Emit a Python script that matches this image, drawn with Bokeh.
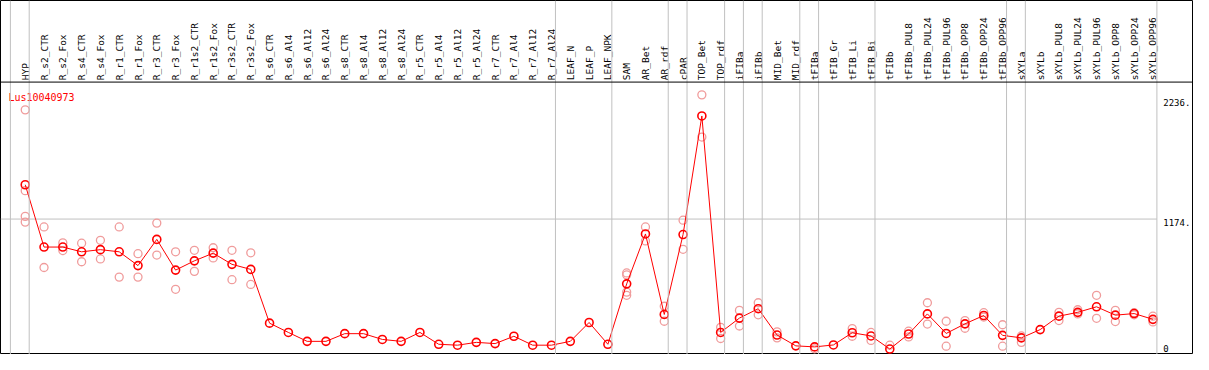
from bokeh.plotting import figure
from bokeh.models import Range1d, Span
from bokeh.core.properties import value
from bokeh.embed import file_html
from bokeh.resources import INLINE
import math

title = "Lus10040973"

categories = ["HYP", "R_s2_CTR", "R_s2_Fox", "R_s4_CTR", "R_s4_Fox", "R_r1_CTR", "R_r1_Fox",
              "R_r3_CTR", "R_r3_Fox", "R_r1s2_CTR", "R_r1s2_Fox", "R_r3s2_CTR", "R_r3s2_Fox",
              "R_s6_CTR", "R_s6_Al4", "R_s6_Al12", "R_s6_Al24", "R_s8_CTR", "R_s8_Al4", "R_s8_Al12",
              "R_s8_Al24", "R_r5_CTR", "R_r5_Al4", "R_r5_Al12", "R_r5_Al24", "R_r7_CTR", "R_r7_Al4",
              "R_r7_Al12", "R_r7_Al24", "LEAF_N", "LEAF_P", "LEAF_NPK", "SAM", "AR_Bet", "AR_rdf",
              "cPAR", "TOP_Bet", "TOP_rdf", "iFIBa", "iFIBb", "MID_Bet", "MID_rdf", "tFIBa",
              "tFIB_Gr", "tFIB_Li", "tFIB_Bi", "tFIBb", "tFIBb_PUL8", "tFIBb_PUL24", "tFIBb_PUL96",
              "tFIBb_OPP8", "tFIBb_OPP24", "tFIBb_OPP96", "sXYLa", "sXYLb", "sXYLb_PUL8",
              "sXYLb_PUL24", "sXYLb_PUL96", "sXYLb_OPP8", "sXYLb_OPP24", "sXYLb_OPP96"]

means = [1478, 926, 926, 884, 903, 884, 762, 994, 722, 804, 872, 773, 728,
         252, 170, 91, 91, 159, 159, 108, 91, 170, 65, 57, 82, 71, 136, 57, 57,
         91, 258, 65, 600, 1042, 329, 1037, 2087, 170, 297, 380, 147, 51, 42,
         59, 167, 139, 23, 156, 334, 161, 246, 320, 144, 122, 195, 314, 348,
         397, 323, 337, 286]

replicates = [[2141, 1425, 1198, 1147], [1104, 745], [963, 895], [960, 796], [986, 821],
              [1104, 660], [867, 660], [1138, 855], [884, 552], [897, 711], [920, 830],
              [897, 637], [875, 595],
              [], [], [], [], [], [], [], [], [], [], [], [], [], [], [], [], [], [], [],
              [697, 680, 527, 499], [1104, 980], [402, 269], [1164, 906], [2274, 1900],
              [215, 116], [365, 227], [433, 326], [175, 122], [], [25], [], [204, 136],
              [170, 99], [57], [181, 130], [433, 244], [269, 48], [275, 207], [345, 306],
              [238, 48], [139, 82], [], [348, 275], [371, 334], [499, 295], [365, 266],
              [345, 326], [314, 263]]

# indices of categories after which a separator line is drawn (-1 = before the first)
separators_after = [-1, 0, 28, 31, 34, 35, 37, 38, 39, 41, 42, 45, 52, 53, 60]

y_tick_values = [2236, 1174, 0]
y_tick_labels = ["2236.", "1174.", "0"]
grid_value = 1174

# ---- layout constants (data units) ----
X0, X1 = -1.3158, 62.158
Y0, Y1 = -25.5, 3109.6
header_y = 2387
label_y = 2404
sep_off = 4 / 19

p = figure(width=1193, height=354, x_range=Range1d(X0, X1), y_range=Range1d(Y0, Y1),
           output_backend="svg", toolbar_location=None, min_border=0)
p.axis.visible = False
p.grid.visible = False
p.outline_line_color = "black"
p.outline_line_width = 1
p.background_fill_color = "white"
p.border_fill_color = "white"

# separators
for k in separators_after:
    p.add_layout(Span(location=k + sep_off, dimension="height", line_color="#c0c0c0", line_width=1))

# header line
p.add_layout(Span(location=header_y, dimension="width", line_color="black", line_width=1))

# horizontal grid line
p.segment(x0=[X0], y0=[grid_value], x1=[separators_after[-1] + sep_off], y1=[grid_value],
          line_color="#c0c0c0", line_width=1)

xs = list(range(len(categories)))

# header labels
p.text(x=xs, y=[label_y] * len(xs), text=categories, angle=math.pi / 2,
       text_align="left", text_baseline="middle", text_font=value("DejaVu Sans Mono"),
       text_font_size="9.5px", text_color="black")

# replicates
rx, ry = [], []
for i, reps in enumerate(replicates):
    for r in reps:
        rx.append(i)
        ry.append(r)
p.scatter(x=rx, y=ry, size=8, marker="circle", fill_color=None,
          line_color="#f09c9c", line_width=1.3)

# mean line and points
p.line(x=xs, y=means, line_color="red", line_width=1)
p.scatter(x=xs, y=means, size=8, marker="circle", fill_color=None,
          line_color="red", line_width=1.6)

# title
p.text(x=[-0.895], y=[2251], text=[title], text_align="left", text_baseline="alphabetic",
       text_font=value("DejaVu Sans Mono"), text_font_size="10px", text_color="red")

# value labels
lab_x = 60.55
p.text(x=[lab_x, lab_x], y=y_tick_values[:2], text=y_tick_labels[:2], text_align="left",
       text_baseline="top", text_font=value("DejaVu Sans Mono"), text_font_size="9px",
       text_color="black")
p.text(x=[lab_x], y=[y_tick_values[2] + 30], text=[y_tick_labels[2]], text_align="left",
       text_baseline="alphabetic", text_font=value("DejaVu Sans Mono"), text_font_size="9px",
       text_color="black")

open("out.html", "w").write(file_html(p, INLINE))
